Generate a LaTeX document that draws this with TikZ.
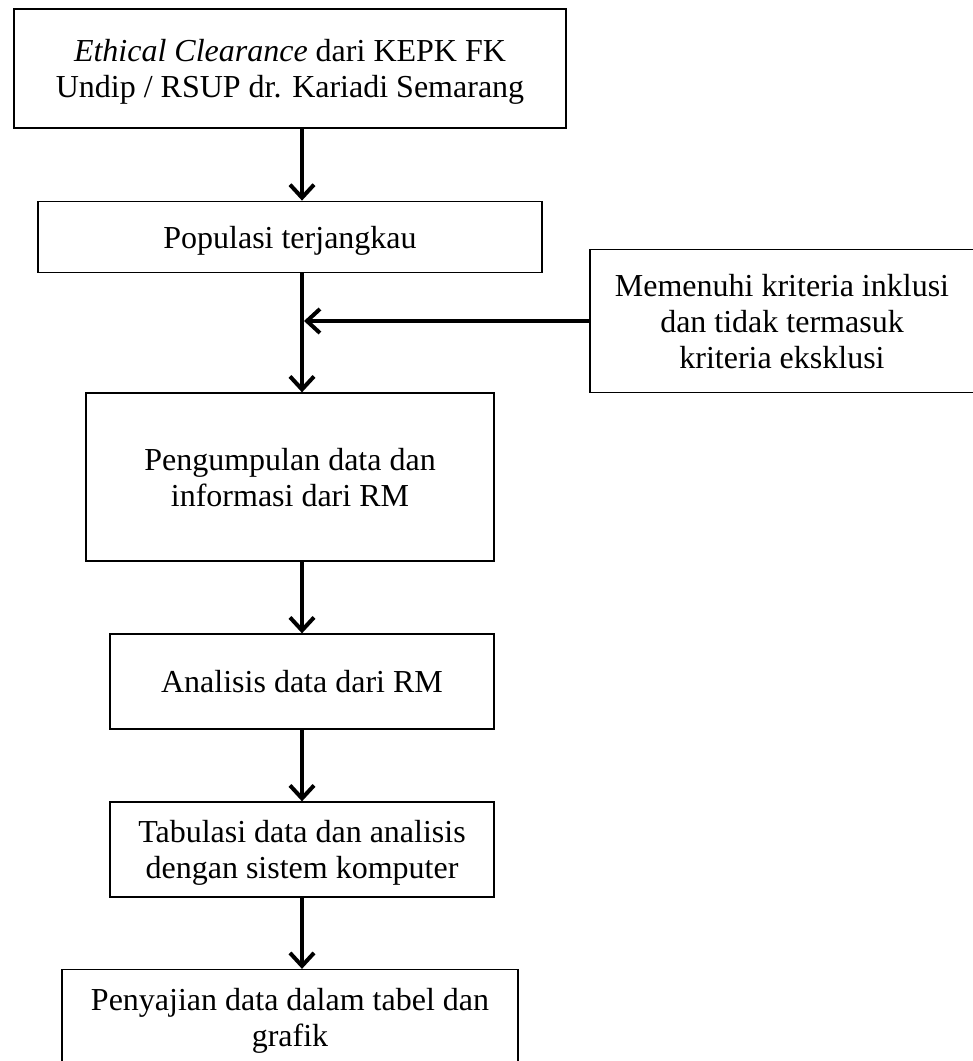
\documentclass[tikz,border=0pt]{standalone}
\usepackage{fontspec}
\setmainfont{Liberation Serif}
\usetikzlibrary{arrows.meta}
\tikzset{>={Straight Barb[length=13pt,width=24pt]}}
\tikzset{kotak/.style={draw, line width=1.3pt, align=center, inner sep=0pt, text depth=0pt, font=\fontsize{32}{36}\selectfont},
panah/.style={->, line width=4pt}}

\begin{document}
\begin{tikzpicture}[x=1pt,y=-1pt]
\useasboundingbox (0,0) rectangle (973,1061);
\clip (0,0) rectangle (973,1061);
% kotak alur
\node[kotak, minimum width=552pt, minimum height=119pt] (ec) at (290,68.5) {\textit{Ethical Clearance} dari KEPK FK\\Undip / RSUP dr. Kariadi Semarang};
\node[kotak, minimum width=504pt, minimum height=71.5pt] (pop) at (290,237) {Populasi terjangkau};
\node[kotak, minimum width=384pt, minimum height=142.5pt] (krit) at (782,321) {Memenuhi kriteria inklusi\\dan tidak termasuk\\kriteria eksklusi};
\node[kotak, minimum width=408pt, minimum height=168pt] (kumpul) at (290,477) {Pengumpulan data dan\\informasi dari RM};
\node[kotak, minimum width=384pt, minimum height=95pt] (ana) at (302,681.5) {Analisis data dari RM};
\node[kotak, minimum width=384pt, minimum height=95pt] (tab) at (302,849.5) {Tabulasi data dan analisis\\dengan sistem komputer};
\node[kotak, minimum width=456pt, minimum height=95pt] (saji) at (290,1017) {Penyajian data dalam tabel dan\\grafik};
% panah
\draw[panah] (ec.south -| ana) -- (pop.north -| ana);
\draw[panah] (pop.south -| ana) -- (kumpul.north -| ana);
\draw[panah, shorten >=2pt] (krit.west) -- (krit.west -| ana);
\draw[panah] (kumpul.south -| ana) -- (ana.north);
\draw[panah] (ana.south) -- (tab.north);
\draw[panah] (tab.south) -- (saji.north -| tab);
\end{tikzpicture}
\end{document}
